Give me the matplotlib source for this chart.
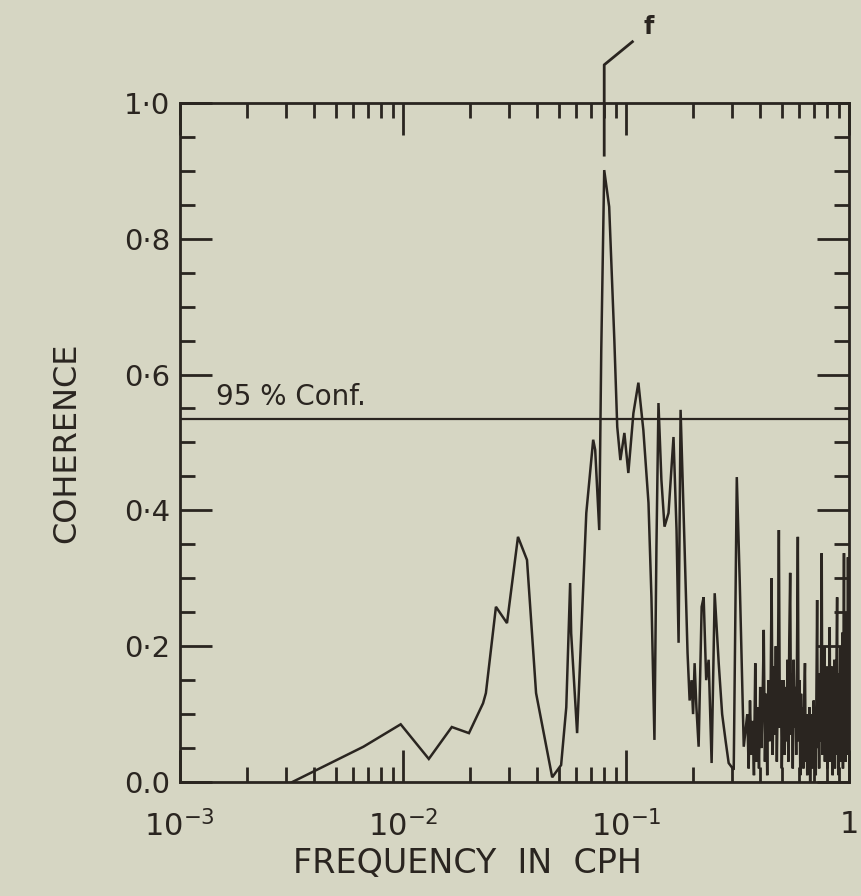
import numpy as np
import matplotlib
matplotlib.use('Agg')
import matplotlib.pyplot as plt
from matplotlib.ticker import FixedLocator, LogLocator, NullFormatter, MultipleLocator

# Coherence spectrum, low-frequency part (cph, coherence).
freqLow = [0.00319, 0.00665, 0.00977, 0.01306, 0.01656, 0.01977, 0.02287, 0.02355,
           0.02612, 0.02928, 0.0328, 0.0360, 0.03953, 0.0467, 0.0512, 0.0540,
           0.0562, 0.0568, 0.0604, 0.0664, 0.0713, 0.0728, 0.0759, 0.0767,
           0.0775, 0.0799, 0.0841, 0.0887, 0.0914, 0.0944, 0.0984, 0.1025,
           0.1080, 0.1137, 0.1197, 0.1262, 0.1301, 0.1342, 0.1370, 0.1399,
           0.1442, 0.1489, 0.1552, 0.1634, 0.1686, 0.1722, 0.1758, 0.1832,
           0.1889, 0.1930, 0.1969, 0.2000, 0.2032, 0.2070, 0.2118, 0.2185,
           0.2231, 0.2290, 0.2349, 0.2422, 0.2500, 0.2606, 0.2700, 0.2800,
           0.2888, 0.3043, 0.3141, 0.3237, 0.3375]
cohLow = [0.000, 0.052, 0.085, 0.034, 0.081, 0.072, 0.116, 0.131,
          0.258, 0.234, 0.361, 0.327, 0.131, 0.007, 0.025, 0.110,
          0.293, 0.219, 0.072, 0.396, 0.504, 0.489, 0.371, 0.504,
          0.636, 0.901, 0.847, 0.651, 0.523, 0.474, 0.514, 0.455,
          0.543, 0.588, 0.518, 0.411, 0.272, 0.062, 0.346, 0.558,
          0.445, 0.376, 0.396, 0.508, 0.371, 0.205, 0.548, 0.346,
          0.190, 0.120, 0.150, 0.100, 0.175, 0.110, 0.052, 0.258,
          0.272, 0.150, 0.180, 0.028, 0.278, 0.175, 0.100, 0.060,
          0.028, 0.018, 0.449, 0.297, 0.052]

# High-frequency part, sampled every 0.005 cph.
freqHigh = [0.350, 0.355, 0.360, 0.365, 0.370, 0.375, 0.380, 0.385, 0.390, 0.395,
            0.400, 0.405, 0.410, 0.415, 0.420, 0.425, 0.430, 0.435, 0.440, 0.445,
            0.450, 0.455, 0.460, 0.465, 0.470, 0.475, 0.480, 0.485, 0.490, 0.495,
            0.500, 0.505, 0.510, 0.515, 0.520, 0.525, 0.530, 0.535, 0.540, 0.545,
            0.550, 0.555, 0.560, 0.565, 0.570, 0.575, 0.580, 0.585, 0.590, 0.595,
            0.600, 0.605, 0.610, 0.615, 0.620, 0.625, 0.630, 0.635, 0.640, 0.645,
            0.650, 0.655, 0.660, 0.665, 0.670, 0.675, 0.680, 0.685, 0.690, 0.695,
            0.700, 0.705, 0.710, 0.715, 0.720, 0.725, 0.730, 0.735, 0.740, 0.745,
            0.750, 0.755, 0.760, 0.765, 0.770, 0.775, 0.780, 0.785, 0.790, 0.795,
            0.800, 0.805, 0.810, 0.815, 0.820, 0.825, 0.830, 0.835, 0.840, 0.845,
            0.850, 0.855, 0.860, 0.865, 0.870, 0.875, 0.880, 0.885, 0.890, 0.895,
            0.900, 0.905, 0.910, 0.915, 0.920, 0.925, 0.930, 0.935, 0.940, 0.945,
            0.950, 0.955, 0.960, 0.965, 0.970, 0.975, 0.980, 0.985, 0.990, 0.995,
            1.000]
cohHigh = [0.10, 0.02, 0.12, 0.04, 0.09, 0.01, 0.175, 0.03, 0.11, 0.02,
           0.14, 0.05, 0.12, 0.224, 0.03, 0.13, 0.01, 0.15, 0.06, 0.12,
           0.30, 0.04, 0.17, 0.07, 0.20, 0.03, 0.14, 0.371, 0.08, 0.15,
           0.02, 0.12, 0.15, 0.04, 0.14, 0.06, 0.18, 0.03, 0.21, 0.308,
           0.07, 0.16, 0.02, 0.18, 0.08, 0.14, 0.04, 0.19, 0.361, 0.06,
           0.15, 0.01, 0.13, 0.05, 0.11, 0.02, 0.12, 0.175, 0.03, 0.10,
           0.01, 0.09, 0.04, 0.11, 0.00, 0.08, 0.03, 0.10, 0.02, 0.12,
           0.04, 0.09, 0.01, 0.13, 0.268, 0.05, 0.14, 0.02, 0.16, 0.06,
           0.19, 0.337, 0.04, 0.15, 0.08, 0.20, 0.03, 0.13, 0.06, 0.17,
           0.02, 0.14, 0.07, 0.16, 0.228, 0.03, 0.12, 0.05, 0.17, 0.01,
           0.15, 0.06, 0.18, 0.02, 0.14, 0.07, 0.19, 0.272, 0.04, 0.16,
           0.01, 0.13, 0.08, 0.20, 0.03, 0.17, 0.05, 0.22, 0.02, 0.15,
           0.337, 0.06, 0.19, 0.03, 0.25, 0.08, 0.16, 0.04, 0.331, 0.07,
           0.12]

conf95 = 0.535
peakFreq = 0.0799
yTicks = [0.0, 0.2, 0.4, 0.6, 0.8, 1.0]
yTickLabels = ['0.0', '0·2', '0·4', '0·6', '0·8', '1·0']
xTicks = [1e-3, 1e-2, 1e-1, 1.0]
xTickLabels = ['$10^{-3}$', '$10^{-2}$', '$10^{-1}$', '1']

bg = '#d6d6c3'
ink = '#2a2520'

plt.rcParams['font.family'] = 'DejaVu Sans'
plt.rcParams['mathtext.fontset'] = 'dejavusans'

fig = plt.figure(figsize=(8.61, 8.96), dpi=100, facecolor=bg)
ax = fig.add_axes([0.209, 0.1272, 0.777, 0.758], facecolor=bg)

freq = np.array(freqLow + freqHigh)
coh = np.array(cohLow + cohHigh)
ax.plot(freq, coh, color=ink, lw=1.8, solid_joinstyle='miter')
ax.axhline(conf95, color=ink, lw=1.6)
ax.text(1.45e-3, conf95 + 0.012, '95 % Conf.', fontsize=20, color=ink, va='bottom')

# marker for peak f above the frame
ax.plot([peakFreq, peakFreq, 0.1069], [0.923, 1.056, 1.090], color=ink, lw=2.0, clip_on=False)
ax.text(0.1262, 1.112, 'f', fontsize=17, fontweight='bold', color=ink, ha='center', va='center')

ax.set_xscale('log')
ax.set_xlim(1e-3, 1.0)
ax.set_ylim(0, 1.0)

ax.xaxis.set_major_locator(FixedLocator(xTicks))
ax.set_xticklabels(xTickLabels)
ax.xaxis.set_minor_locator(LogLocator(base=10, subs=np.arange(2, 10)))
ax.xaxis.set_minor_formatter(NullFormatter())
ax.set_yticks(yTicks)
ax.set_yticklabels(yTickLabels)
ax.yaxis.set_minor_locator(MultipleLocator(0.05))

ax.tick_params(which='both', direction='in', top=True, right=True, color=ink, labelcolor=ink)
ax.tick_params(which='major', length=23, width=2.0)
ax.tick_params(which='minor', length=11, width=2.0)
ax.tick_params(axis='x', labelsize=22, pad=20)
ax.tick_params(axis='y', labelsize=21, pad=7)
for s in ax.spines.values():
    s.set_color(ink)
    s.set_linewidth(2.0)

ax.set_xlabel('FREQUENCY  IN  CPH', fontsize=24, color=ink)
ax.xaxis.set_label_coords(0.43, -0.095)
ax.set_ylabel('COHERENCE', fontsize=23, color=ink, labelpad=30)

fig.savefig('out.png', dpi=100, facecolor=bg)
